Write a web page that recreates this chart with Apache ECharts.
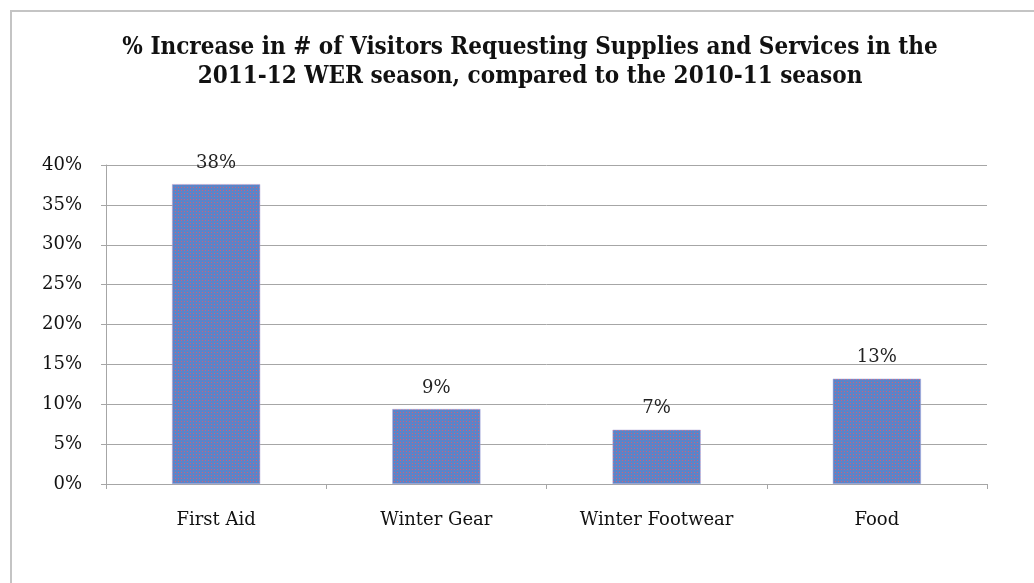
<!DOCTYPE html>
<html><head><meta charset="utf-8">
<script src="https://cdn.jsdelivr.net/npm/echarts@6/dist/echarts.min.js"></script>
<style>html,body{margin:0;padding:0;background:#fff}#frame{position:absolute;left:10px;top:10px;width:1040px;height:580px;border-left:2px solid #c4c4c4;border-top:2px solid #c4c4c4;box-sizing:border-box}#c{position:absolute;left:0;top:0;width:1034px;height:583px}</style>
</head><body><div id="frame"></div><div id="c"></div>
<script>
var categories = ['First Aid', 'Winter Gear', 'Winter Footwear', 'Food'];
var values = [37.6, 9.4, 6.8, 13.2];
var yTicks = [0, 5, 10, 15, 20, 25, 30, 35, 40];

var pc = document.createElement('canvas');
pc.width = 3; pc.height = 3;
var g = pc.getContext('2d');
g.fillStyle = '#5b84c8'; g.fillRect(0, 0, 3, 3);
g.fillStyle = '#d0607a'; g.fillRect(1, 1, 1, 1);

var chart = echarts.init(document.getElementById('c'), null, {renderer: 'canvas'});
var serif = '"DejaVu Serif", "Liberation Serif", serif';
chart.setOption({
  animation: false,
  title: {
    text: '% Increase in # of Visitors Requesting Supplies and Services in the\n2011-12 WER season, compared to the 2010-11 season',
    left: 525, top: 28, textAlign: 'center',
    textStyle: {fontFamily: '"DejaVu Serif Condensed", "DejaVu Serif", serif', fontWeight: 'bold', fontSize: 24, lineHeight: 29, color: '#111'}
  },
  grid: {left: 106, right: 47, top: 165, bottom: 99},
  xAxis: {
    type: 'category', data: categories,
    axisLine: {lineStyle: {color: '#a6a6a6', width: 1}},
    axisTick: {show: true, length: 5, lineStyle: {color: '#a6a6a6'}},
    axisLabel: {fontFamily: serif, fontSize: 18, color: '#111', margin: 27}
  },
  yAxis: {
    type: 'value', min: yTicks[0], max: yTicks[yTicks.length - 1], interval: 5,
    axisLine: {show: true, lineStyle: {color: '#a6a6a6', width: 1}},
    axisTick: {show: true, length: 5, lineStyle: {color: '#a6a6a6'}},
    splitLine: {lineStyle: {color: '#a6a6a6', width: 1}},
    axisLabel: {fontFamily: serif, fontSize: 18, color: '#111', margin: 24, formatter: '{value}%'}
  },
  series: [{
    type: 'bar', data: values, barWidth: '40%',
    itemStyle: {color: {image: pc, repeat: 'repeat'}, borderColor: '#b0a8d8', borderWidth: 0.5},
    label: {show: true, position: 'top', distance: 12, fontFamily: serif, fontSize: 18, color: '#222',
      formatter: function (p) { return Math.round(p.value) + '%'; }}
  }]
});
</script></body></html>
